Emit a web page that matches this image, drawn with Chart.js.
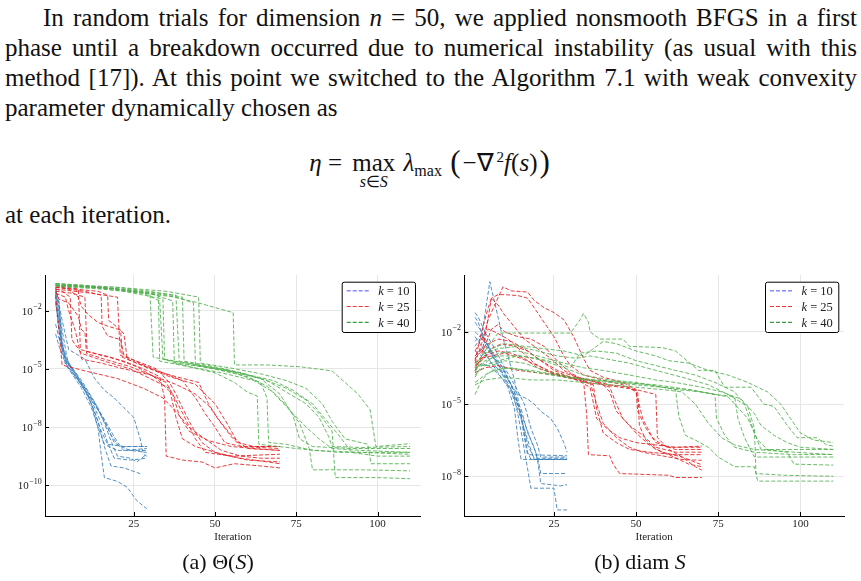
<!DOCTYPE html>
<html>
<head>
<meta charset="utf-8">
<script src="https://cdn.jsdelivr.net/npm/chart.js@4.4.1/dist/chart.umd.min.js"></script>
<style>
body { margin: 0; width: 861px; height: 581px; background: #fff; position: relative; overflow: hidden; font-family: 'Liberation Serif', serif; color: #111; }
.para { position: absolute; left: 5px; width: 852px; font-size: 25px; line-height: 30px; }
.para div { text-align: justify; text-align-last: justify; }
#eq { position: absolute; top: 142px; left: 0; width: 861px; text-align: center; font-size: 25px; line-height: 30px; }
.under { position: relative; display: inline-block; margin: 0 2px 0 4px; }
.lim { position: absolute; left: 50%; transform: translateX(-50%); top: 19px; font-size: 16px; white-space: nowrap; }
.sb { font-size: 16px; position: relative; top: 5px; }
.bigp { font-size: 31px; position: relative; top: 1px; margin: 0 2px; }
.cap { position: absolute; top: 549px; font-size: 22px; line-height: 26px; transform: translateX(-50%); white-space: nowrap; }
.plot { position: absolute; top: 268px; }
</style>
</head>
<body>
<div class="para" style="top:3px">
  <div style="text-indent:38px">In random trials for dimension <i>n</i> = 50, we applied nonsmooth BFGS in a first</div>
  <div>phase until a breakdown occurred due to numerical instability (as usual with this</div>
  <div>method [17]). At this point we switched to the Algorithm 7.1 with weak convexity</div>
  <div style="text-align-last:left">parameter dynamically chosen as</div>
</div>
<div id="eq"><i>η</i>&nbsp;= <span class="under">max<span class="lim"><i>s</i>∈<i>S</i></span></span> <i>λ</i><span class="sb">max</span> <span class="bigp">(</span>−∇<sup style="font-size:15px">&thinsp;2</sup><i>f</i>(<i>s</i>)<span class="bigp">)</span></div>
<div class="para" style="top:200px"><div style="text-align-last:left">at each iteration.</div></div>

<div class="plot" style="left:0px"><canvas id="thetaChart" width="430" height="282"></canvas></div>
<div class="plot" style="left:430px"><canvas id="diamChart" width="431" height="282"></canvas></div>

<div class="cap" style="left:218px">(a) Θ(<i>S</i>)</div>
<div class="cap" style="left:640px">(b) diam <i>S</i></div>

<script>
// each run: [iteration, value]
const thetaK10 = [
  [[1,1.3e-1],[2,3.2e-2],[3,3.2e-4],[4,2.5e-5],[7,6.3e-6],[10,1e-6],[13,6.3e-8],[15,6.3e-9],[17,1.3e-9],[22,1e-9],[29,1e-9]],
  [[1,6.3e-2],[2,6.3e-3],[3,1e-4],[5,1e-5],[9,1e-6],[12,1e-7],[14,1e-8],[16,1.3e-9],[20,6.3e-10],[29,6.3e-10]],
  [[1,3.2e-2],[2,1.6e-3],[4,1.6e-5],[8,2.5e-6],[12,2.5e-7],[15,1.6e-8],[17,1.6e-9],[19,2.5e-10],[24,2.0e-10],[29,2.5e-10]],
  [[1,2.0e-3],[2,4.0e-4],[4,3.2e-5],[7,5.0e-6],[11,4.0e-7],[14,2.0e-8],[16,1e-9],[18,1e-10],[22,7.9e-11],[27,4.0e-11]],
  [[1,1e-1],[2,1e-2],[3,1e-3],[5,1.3e-5],[9,1.6e-6],[12,1.6e-7],[14,1e-8],[15,4.0e-10],[16,2.5e-11],[20,1.6e-11],[23,7.9e-12],[26,1.6e-12],[29,6.3e-13]],
  [[1,1.6e-1],[3,3.2e-3],[5,1e-4],[8,5.0e-5],[10,3.2e-5],[13,3.2e-6],[16,7.9e-7],[19,3.2e-7],[22,1e-7],[25,3.2e-8],[27,2.5e-9],[28,4.0e-10],[29,3.2e-10]],
  [[1,5.0e-2],[2,3.2e-3],[3,6.3e-5],[6,1e-5],[10,1e-6],[14,1e-7],[17,1e-8],[19,1.6e-9],[21,1e-9],[24,6.3e-10],[29,5.0e-10]],
  [[1,7.9e-2],[2,1.6e-2],[3,1.6e-4],[5,2.0e-5],[9,2.5e-6],[13,2.0e-7],[16,1.6e-8],[18,2.0e-9],[20,3.2e-10],[24,2.5e-10],[26,1.6e-10],[29,4.0e-10]],
  [[1,6.3e-4],[2,1.6e-4],[4,2.0e-5],[8,2.5e-6],[12,2.5e-7],[16,2.5e-8],[19,3.2e-9],[21,1e-9],[29,1e-9]],
  [[1,2.5e-2],[2,1e-3],[4,4.0e-5],[7,6.3e-6],[11,6.3e-7],[15,4.0e-8],[18,4.0e-9],[20,1.3e-9],[22,6.3e-10],[29,7.9e-10]]
];

const thetaK25 = [
  [[1,2.0e-1],[8,1.3e-1],[8.6,1e-4],[15,5.0e-5],[22,2.5e-5],[28,1e-5],[33,4.0e-6],[34.5,3.2e-7],[35,3.2e-10],[40,2.0e-10],[46,1.6e-10],[50,7.9e-11],[56,1.3e-10],[64,1e-10],[70,7.9e-11]],
  [[1,1.3e-1],[3,1e-1],[5.5,5.0e-2],[6,3.2e-4],[9,6.3e-5],[16,2.5e-5],[24,1e-5],[30,3.2e-6],[36,1e-6],[38,3.2e-8],[40,2.5e-9],[44,1e-9],[52,4.0e-10],[60,2.0e-10],[70,1.6e-10]],
  [[1,1e-1],[6,7.9e-2],[10,5.0e-2],[10.7,7.9e-5],[18,4.0e-5],[26,1.3e-5],[32,3.2e-6],[37,5.0e-7],[39,4.0e-8],[42,6.3e-9],[48,2.0e-9],[55,1e-9],[62,7.9e-10],[70,6.3e-10]],
  [[1,1.6e-1],[10,1e-1],[15,6.3e-2],[15.3,1.6e-3],[17,5.0e-4],[21,3.2e-4],[22,5.0e-5],[28,1.6e-5],[34,6.3e-6],[40,2.5e-6],[44,3.2e-7],[47,5.0e-8],[50,1e-8],[53,1.6e-9],[58,1e-9],[70,1e-9]],
  [[1,7.9e-2],[4,5.0e-2],[5,1e-2],[7,1e-3],[9,3.2e-5],[15,2.0e-5],[22,1e-5],[30,5.0e-6],[38,1.6e-6],[44,5.0e-7],[48,1.3e-7],[52,1.6e-8],[56,2.5e-9],[60,7.9e-10],[70,6.3e-10]],
  [[1,6.3e-2],[3,1.6e-5],[10,7.9e-6],[20,3.2e-6],[28,1e-6],[34,3.2e-7],[38,6.3e-8],[42,1e-8],[46,3.2e-9],[52,6.3e-10],[58,3.2e-10],[64,2.5e-10],[70,2.5e-10]],
  [[1,1.6e-1],[14,1e-1],[17,6.3e-2],[17.3,3.2e-3],[21,1e-3],[21.5,4.0e-5],[26,2.0e-5],[32,7.9e-6],[38,4.0e-6],[45,2.0e-6],[48,1.6e-7],[51,2.5e-8],[55,3.2e-9],[58,1e-9],[70,7.9e-10]],
  [[1,1.3e-1],[12,7.9e-2],[20,5.0e-2],[20.9,5.0e-5],[26,2.5e-5],[32,1e-5],[36,2.0e-6],[38,5.0e-7],[40,1e-7],[43,1e-8],[46,1.6e-9],[50,5.0e-10],[58,2.5e-10],[70,1.3e-10]],
  [[1,1e-1],[2,4.0e-2],[5,2.5e-2],[8,5.0e-3],[9,1e-3],[10,7.9e-4],[10.5,6.3e-5],[16,3.2e-5],[24,1.3e-5],[30,5.0e-6],[35,2.0e-6],[38,2.5e-7],[41,2.5e-8],[44,2.5e-9],[47,5.0e-10],[55,3.2e-10],[70,4.0e-10]],
  [[1,2.0e-1],[5,1.3e-1],[8,5.0e-2],[9,1.6e-2],[11,6.3e-3],[14,2.5e-3],[17,1.6e-3],[21,1e-3],[22,6.3e-4],[23,3.2e-5],[30,1e-5],[36,4.0e-6],[44,1.6e-6],[50,1.6e-7],[54,1.3e-8],[57,1.6e-9],[62,1e-9],[70,1e-9]]
];

const thetaK40 = [
  [[1,2.5e-1],[10,2.0e-1],[20,1.3e-1],[30,7.9e-2],[31,4.0e-5],[40,2.0e-5],[50,1e-5],[60,4.0e-6],[66,1.3e-6],[70,2.5e-7],[74,5.0e-8],[78,1e-8],[82,2.5e-9],[86,7.9e-10],[95,6.3e-10],[110,5.0e-10]],
  [[1,2.0e-1],[15,1.6e-1],[25,1e-1],[32.6,6.3e-2],[33,2.5e-5],[42,1.3e-5],[52,6.3e-6],[62,2.5e-6],[68,6.3e-7],[72,1.3e-7],[76,1.6e-8],[79,7.9e-10],[80,6.3e-11],[95,6.3e-11],[110,5.6e-11]],
  [[1,2.2e-1],[12,1.6e-1],[22,1e-1],[34,4.0e-2],[34.5,3.2e-5],[44,1.6e-5],[54,7.9e-6],[64,3.2e-6],[70,5.0e-7],[74,4.0e-8],[76,2.5e-9],[80,1e-9],[92,7.9e-10],[110,7.9e-10]],
  [[1,2.5e-1],[20,1.3e-1],[30,7.9e-2],[37,3.2e-2],[37.5,2.0e-5],[46,1.3e-5],[56,6.3e-6],[64,2.0e-6],[66,3.2e-7],[66.5,1.6e-9],[72,1.3e-9],[80,6.3e-10],[95,5.0e-10],[110,4.0e-10]],
  [[1,2.0e-1],[20,1.6e-1],[30,1e-1],[40,5.0e-2],[40.5,2.5e-5],[50,1.3e-5],[58,6.3e-6],[66,2.5e-6],[72,1e-6],[78,2.5e-7],[82,5.0e-8],[86,6.3e-9],[87,2.5e-11],[100,2.5e-11],[110,2.2e-11]],
  [[1,1.8e-1],[15,1.3e-1],[28,7.9e-2],[38,5.0e-2],[43.4,2.5e-2],[44,1.6e-5],[52,1e-5],[60,5.0e-6],[68,2.5e-6],[74,7.9e-7],[80,1.6e-7],[84,2.5e-8],[88,4.0e-9],[92,5.0e-10],[100,3.2e-10],[110,3.2e-10]],
  [[1,2.5e-1],[20,1.6e-1],[35,1e-1],[45,5.0e-2],[45.5,2.0e-5],[55,1.1e-5],[64,5.6e-6],[72,2.5e-6],[78,1e-6],[83,1.6e-7],[86,2.0e-8],[90,2.5e-9],[97,1.3e-9],[98,1.3e-10],[110,1.3e-10]],
  [[1,2.0e-1],[20,1.3e-1],[35,6.3e-2],[45,2.5e-2],[55.6,7.9e-3],[56,1.6e-5],[66,1.6e-5],[76,1.3e-5],[86,7.9e-6],[90,2.0e-6],[94,5.0e-7],[97.7,7.9e-8],[99.5,1e-9],[110,1.4e-9]],
  [[1,2.2e-1],[18,1.4e-1],[28,7.9e-2],[33,3.2e-2],[34,3.2e-5],[42,1.3e-5],[50,6.3e-6],[56,2.0e-6],[60,6.3e-7],[63,4.0e-7],[63.5,1.3e-9],[75,7.9e-10],[88,5.0e-10],[110,5.0e-10]],
  [[1,2.0e-1],[22,1.3e-1],[38,6.3e-2],[39,2.5e-5],[48,1.3e-5],[58,6.3e-6],[66,2.5e-6],[72,6.3e-7],[78,1.6e-7],[82,3.2e-8],[85,3.2e-9],[86,1e-9],[95,8.9e-10],[110,1e-9]]
];

const diamK10 = [
  [[1,2.5e-3],[3,6.3e-3],[5.5,1.2],[7,1.6e-1],[9,1e-2],[11,1e-3],[13,1e-4],[15,3.2e-6],[17,1e-7],[18,5.0e-8],[22,5.0e-8],[29,5.0e-8]],
  [[1,1.6e-3],[3,1e-3],[5,2.5e-3],[7,6.3e-4],[10,2.0e-4],[13,3.2e-5],[15,3.2e-6],[17,2.0e-7],[19,5.6e-8],[29,5.6e-8]],
  [[1,4.0e-2],[2,2.5e-2],[4,3.2e-3],[6,1e-3],[9,4.0e-4],[12,6.3e-5],[14,4.0e-6],[15.5,3.2e-7],[17,2.0e-8],[18,3.2e-9],[25,3.2e-9],[26,4.0e-10],[29,4.0e-10]],
  [[1,2.5e-2],[3,1e-2],[6,1.6e-3],[9,2.5e-4],[12,4.0e-5],[15,4.0e-6],[18,3.2e-7],[20,6.3e-8],[21,1.3e-8],[26,1.3e-8],[29,1.3e-8]],
  [[1,2.5e-4],[3,5.0e-4],[6,3.2e-4],[9,1.3e-4],[12,4.0e-5],[15,6.3e-6],[17,6.3e-7],[19,1.6e-7],[20,5.0e-8],[21,5.0e-9],[27,4.0e-9],[29,4.5e-9]],
  [[1,6.3e-3],[3,2.5e-3],[6,5.0e-4],[10,1.6e-4],[14,2.5e-5],[17,1.6e-5],[19,1e-5],[21,5.0e-6],[24,2.5e-6],[26,1e-6],[28,2.5e-7],[29,1e-7]],
  [[1,1e-2],[4,4.0e-3],[7,1e-3],[10,2.5e-4],[13,3.2e-5],[15,3.2e-6],[16,4.0e-7],[17,7.9e-8],[29,7.1e-8]],
  [[1,6.3e-2],[2,4.0e-2],[4,1e-2],[7,2.0e-3],[10,3.2e-4],[13,6.3e-5],[16,1e-5],[18,1e-6],[20,2.0e-7],[21,6.3e-8],[29,6.3e-8]],
  [[1,1e-3],[3,2.0e-3],[5,7.9e-4],[8,2.0e-4],[11,5.0e-5],[13,6.3e-6],[14,4.0e-7],[15,5.0e-8],[29,5.0e-8]],
  [[1,4.0e-3],[3,7.9e-3],[6,1.3e-3],[9,2.0e-4],[12,3.2e-5],[15,2.5e-6],[17,3.2e-7],[19,5.0e-8],[29,5.0e-8]]
];

const diamK25 = [
  [[1,5.0e-4],[3,3.2e-3],[5,3.2e-2],[7,1.3e-1],[9.5,7.4e-1],[12,5.0e-1],[17,4.5e-1],[19,2.0e-1],[22,1e-1],[25,6.3e-2],[28,3.2e-2],[31,6.3e-3],[34,7.9e-4],[36,2.5e-4],[40,1.3e-4],[46,7.9e-5],[50,4.0e-5],[50.5,5.0e-6],[53,1e-6],[56,2.5e-7],[60,1.6e-7],[70,1.6e-7]],
  [[1,2.5e-4],[3,1e-3],[6,2.5e-1],[8,3.5e-1],[10,3.5e-1],[14,3.2e-1],[17,2.5e-1],[19,1e-1],[22,2.5e-2],[25,6.3e-3],[28,1e-3],[30,4.0e-4],[34,1.6e-4],[40,1e-4],[46,6.3e-5],[50,3.2e-5],[52,2.5e-6],[55,4.0e-7],[58,2.0e-7],[62,1.3e-7],[70,1.3e-7]],
  [[1,1e-3],[4,2.5e-3],[6,1.3e-2],[8,2.0e-2],[10,1e-2],[14,6.3e-3],[18,5.0e-3],[22,2.5e-3],[26,6.3e-4],[30,2.0e-4],[34,1e-4],[35,3.2e-6],[35.5,7.9e-8],[42,7.1e-8],[43,3.2e-8],[45,1.3e-8],[60,1.1e-8],[62,8.9e-9],[70,8.9e-9]],
  [[1,4.0e-4],[3,6.3e-4],[6,2.0e-3],[9,3.2e-3],[13,2.5e-3],[17,1.6e-3],[21,6.3e-4],[25,2.5e-4],[30,1.3e-4],[36,7.9e-5],[38,1e-5],[40,1.6e-6],[44,4.0e-7],[48,1.6e-7],[52,1e-7],[56,7.9e-8],[64,5.0e-8],[70,4.6e-8]],
  [[1,7.9e-4],[3,1.6e-3],[5,3.2e-3],[8,5.0e-3],[12,4.0e-3],[16,2.0e-3],[20,7.9e-4],[26,2.5e-4],[32,1.3e-4],[38,7.9e-5],[42,5.0e-5],[44,1e-5],[46,2.5e-6],[50,6.3e-7],[54,2.0e-7],[58,1e-7],[64,6.3e-8],[70,3.0e-8]],
  [[1,2.0e-4],[4,3.2e-4],[8,4.0e-4],[14,2.5e-4],[20,2.0e-4],[26,1.6e-4],[32,1e-4],[36,5.0e-5],[38,2.5e-6],[41,1e-6],[45,4.0e-7],[50,2.5e-7],[56,2.0e-7],[62,1.6e-7],[70,1.8e-7]],
  [[1,1.6e-3],[3,5.0e-3],[5,1.3e-2],[7,1e-2],[11,5.0e-3],[15,1.6e-3],[19,5.0e-4],[24,2.0e-4],[30,1.3e-4],[36,1e-4],[42,6.3e-5],[48,5.0e-5],[50.5,3.2e-5],[51,1.3e-6],[53,3.2e-7],[56,1.3e-7],[60,7.9e-8],[66,3.2e-8],[70,2.5e-8]],
  [[1,3.2e-4],[3,7.9e-4],[6,1e-3],[10,1.3e-3],[15,7.9e-4],[20,4.0e-4],[25,2.0e-4],[30,1.3e-4],[35,7.9e-5],[40,6.3e-5],[45,5.0e-5],[50,4.0e-5],[56,2.5e-5],[56.5,4.0e-7],[60,1.3e-7],[64,6.3e-8],[68,2.5e-8],[70,1.8e-8]],
  [[1,6.3e-4],[3,1e-2],[5,1e-1],[6,2.5e-1],[8,1.3e-1],[10,5.0e-2],[13,1.6e-2],[16,5.0e-3],[20,2.0e-3],[24,7.9e-4],[28,2.5e-4],[32,1.3e-4],[36,1e-4],[40,6.3e-5],[42,3.2e-5],[44,5.0e-6],[48,1.3e-6],[52,5.0e-7],[56,1.6e-7],[62,1e-7],[70,1e-7]],
  [[1,5.0e-4],[4,1e-3],[8,1.6e-3],[12,1.3e-3],[16,7.9e-4],[20,3.2e-4],[26,1.6e-4],[32,1e-4],[37,6.3e-5],[38,6.3e-6],[40,6.3e-7],[44,2.5e-7],[48,1.3e-7],[54,1e-7],[62,7.9e-8],[70,7.9e-8]]
];

const diamK40 = [
  [[1,4.0e-4],[5,2.5e-3],[8,8.9e-3],[20,8.9e-3],[30,8.9e-3],[33,3.2e-2],[34,5.8e-2],[35.5,2.5e-2],[36,1e-2],[39,5.0e-3],[46,5.0e-3],[48,2.5e-3],[58,2.2e-3],[62,1.6e-3],[69,2.5e-4],[74,2.5e-4],[77,5.0e-5],[85,5.0e-5],[88.8,1e-5],[92,7.9e-6],[96,1.3e-6],[99,4.0e-7],[105,4.0e-7],[108,2.0e-7],[110,1.8e-7]],
  [[1,1.6e-4],[4,4.0e-4],[8,6.3e-4],[14,1e-3],[20,7.9e-4],[26,5.0e-4],[30,3.2e-4],[33,1.3e-3],[38,1.6e-3],[44,1.3e-3],[50,6.3e-4],[56,4.0e-4],[62,2.5e-4],[68,1.6e-4],[74,7.9e-5],[80,3.2e-5],[83,1e-5],[86,6.3e-7],[88,1.3e-7],[98,1.3e-7],[110,1.3e-7]],
  [[1,7.9e-5],[5,2.0e-4],[10,3.2e-4],[18,2.5e-4],[26,1.6e-4],[34,1e-4],[42,7.9e-5],[50,6.3e-5],[58,5.0e-5],[62,4.0e-5],[63,3.2e-6],[65,5.0e-7],[68,3.2e-7],[72,1.6e-7],[75,6.3e-8],[80,2.5e-8],[86,2.5e-8],[87,6.3e-9],[100,6.3e-9],[110,6.3e-9]],
  [[1,2.5e-4],[4,6.3e-4],[8,1e-3],[15,1e-3],[22,6.3e-4],[28,3.2e-4],[34,1.6e-4],[42,1e-4],[50,7.9e-5],[58,5.0e-5],[66,4.0e-5],[74,2.5e-5],[74.5,2.5e-6],[77,5.0e-7],[80,1.6e-7],[86,1e-7],[98,7.9e-8],[110,8.1e-8]],
  [[1,2.5e-5],[3,1e-4],[6,2.5e-4],[12,3.2e-4],[20,2.0e-4],[28,1.3e-4],[36,1e-4],[46,7.9e-5],[56,6.3e-5],[66,4.0e-5],[74,2.5e-5],[80,2.0e-5],[81,2.5e-6],[83,4.0e-7],[86,6.3e-8],[90,6.3e-8],[110,6.3e-8]],
  [[1,5.0e-4],[4,1.3e-3],[8,2.0e-3],[14,2.5e-3],[20,1.6e-3],[26,1e-3],[32,7.9e-4],[36,1e-3],[40,7.9e-4],[48,5.0e-4],[56,2.5e-4],[64,1.3e-4],[72,6.3e-5],[78,2.5e-5],[84,7.9e-6],[86,1e-6],[86.5,1.3e-8],[95,1.1e-8],[110,1e-8]],
  [[1,1.3e-4],[3,4.0e-4],[6,4.0e-4],[10,6.3e-4],[16,5.0e-4],[22,2.5e-4],[30,1.3e-4],[38,1e-4],[46,7.9e-5],[54,6.3e-5],[62,4.0e-5],[70,3.2e-5],[78,2.0e-5],[84,2.5e-6],[87,3.2e-7],[90,1.3e-7],[96,1e-7],[98,3.2e-8],[110,2.9e-8]],
  [[1,3.2e-4],[4,5.0e-4],[8,1.3e-3],[14,1.6e-3],[20,1e-3],[28,5.0e-4],[34,3.2e-4],[40,2.5e-4],[48,1.6e-4],[56,1e-4],[62,7.9e-5],[70,5.0e-5],[76,3.2e-5],[82,1.6e-5],[86,4.0e-6],[88,1.3e-6],[92,5.0e-7],[96,2.5e-7],[100,1.6e-7],[110,1.3e-7]],
  [[1,6.3e-5],[4,1e-4],[10,1.3e-4],[18,1e-4],[26,1e-4],[34,7.9e-5],[42,6.3e-5],[50,5.0e-5],[58,4.0e-5],[64,3.2e-5],[68,1e-5],[72,1.6e-6],[76,4.0e-7],[80,2.0e-7],[86,1.3e-7],[98,1e-7],[110,7.9e-8]],
  [[1,2.0e-4],[3,7.9e-4],[6,2.0e-3],[10,3.2e-3],[16,2.5e-3],[22,2.0e-3],[28,1.6e-3],[34,1e-3],[40,4.0e-3],[44,3.2e-3],[50,1.6e-3],[56,1e-3],[60,6.3e-4],[66,5.0e-4],[72,2.5e-4],[78,1.6e-4],[84,7.9e-5],[90,3.2e-5],[94,1e-5],[97,2.5e-6],[100,6.3e-7],[104,3.2e-7],[110,2.5e-7]]
];

const xTicks = [25, 50, 75, 100];
const thetaTicks = [1e-2, 1e-5, 1e-8, 1e-11];
const thetaTickExp = ['−2', '−5', '−8', '−10'];
const diamTicks = [1e-2, 1e-5, 1e-8];
const diamTickExp = ['−2', '−5', '−8'];
const legendK = ['10', '25', '40'];

const lineColors = ['rgba(55,126,184,0.85)', 'rgba(228,26,28,0.85)', 'rgba(77,175,74,0.85)'];
const legendColors = ['rgba(70,70,255,0.65)', 'rgba(240,30,30,0.9)', 'rgba(0,125,0,0.95)'];
const serif = "'Liberation Serif', serif";

function runsToDatasets(runs, color, order) {
    return runs.map(run => ({
        data: run,
        borderColor: color,
        borderWidth: 1,
        borderDash: [4, 2],
        pointRadius: 0,
        fill: false,
        tension: 0,
        order: order,
    }));
}

// tick labels 10^e, inner tick marks and the boxed legend
const overlay = {
    id: 'overlay',
    afterDraw(chart, args, opts) {
        const ctx = chart.ctx;
        const area = chart.chartArea;
        const xs = chart.scales.x;
        const ys = chart.scales.y;
        ctx.save();
        ctx.strokeStyle = '#000';
        ctx.lineWidth = 1;
        opts.yTicks.forEach(v => {
            let py = Math.round(ys.getPixelForValue(v)) + 0.5;
            ctx.beginPath(); ctx.moveTo(area.left, py); ctx.lineTo(area.left + 4, py); ctx.stroke();
        });
        xTicks.forEach(v => {
            let px = Math.round(xs.getPixelForValue(v)) + 0.5;
            ctx.beginPath(); ctx.moveTo(px, area.bottom); ctx.lineTo(px, area.bottom - 4); ctx.stroke();
        });

        ctx.fillStyle = '#222';
        ctx.textAlign = 'right';
        ctx.textBaseline = 'middle';
        opts.yTicks.forEach((v, i) => {
            let py = ys.getPixelForValue(v);
            let right = area.left - 3.3;
            ctx.font = '8px ' + serif;
            let w = ctx.measureText(opts.yExp[i]).width;
            ctx.fillText(opts.yExp[i], right, py - 3.5);
            ctx.font = '11px ' + serif;
            ctx.fillText('10', right - w - 0.5, py + 1);
        });

        // legend box
        let bw = 73.3, bh = 50.3;
        let bx = area.right - 5.7 - bw, by = area.top + 6.7;
        ctx.fillStyle = '#fff';
        ctx.beginPath();
        ctx.roundRect(bx + 0.5, by + 0.5, bw, bh, 2);
        ctx.fill();
        ctx.stroke();
        ctx.textAlign = 'left';
        legendK.forEach((k, i) => {
            let ry = by + 9 + i * 15.8;
            ctx.strokeStyle = legendColors[i];
            ctx.setLineDash([4, 2]);
            ctx.lineWidth = i == 0 ? 1.4 : 1;
            ctx.beginPath(); ctx.moveTo(bx + 5, ry); ctx.lineTo(bx + 28.5, ry); ctx.stroke();
            ctx.setLineDash([]);
            ctx.fillStyle = '#222';
            ctx.font = 'italic 12.5px ' + serif;
            ctx.fillText('k', bx + 36.5, ry + 1);
            let kw = ctx.measureText('k').width;
            ctx.font = '12.5px ' + serif;
            ctx.fillText(' = ' + k, bx + 36.5 + kw, ry + 1);
        });
        ctx.restore();
    }
};

function makeChart(id, groups, yMin, yMax, yTicks, yExp, yWidth, padRight) {
    let datasets = [];
    groups.forEach((runs, g) => {
        datasets = datasets.concat(runsToDatasets(runs, lineColors[g], 3 - g));
    });
    return new Chart(id, {
        type: 'line',
        data: { datasets: datasets },
        plugins: [overlay],
        options: {
            animation: false,
            responsive: false,
            devicePixelRatio: 1,
            layout: { padding: { left: 0, top: 7, right: padRight, bottom: 0 } },
            scales: {
                x: {
                    type: 'linear',
                    min: -2.27,
                    max: 113.27,
                    afterBuildTicks: s => { s.ticks = xTicks.map(v => ({ value: v })); },
                    afterFit: s => { s.height = 34; },
                    grid: { color: '#e6e6e6', drawTicks: false },
                    border: { color: '#000', width: 1 },
                    ticks: { font: { family: serif, size: 11 }, color: '#222', padding: 2, maxRotation: 0 },
                    title: { display: true, text: 'Iteration', font: { family: serif, size: 11 }, color: '#222', padding: { top: 0, bottom: 6 } },
                },
                y: {
                    type: 'logarithmic',
                    min: yMin,
                    max: yMax,
                    afterBuildTicks: s => { s.ticks = yTicks.map(v => ({ value: v })); },
                    afterFit: s => { s.width = yWidth; },
                    grid: { color: '#e6e6e6', drawTicks: false },
                    border: { color: '#000', width: 1 },
                    ticks: { display: false },
                },
            },
            plugins: {
                legend: { display: false },
                tooltip: { enabled: false },
                overlay: { yTicks: yTicks, yExp: yExp },
            },
        },
    });
}

var thetaChart = makeChart('thetaChart', [thetaK10, thetaK25, thetaK40], 2.63e-13, 0.69, thetaTicks, thetaTickExp, 45, 9.3);
var diamChart = makeChart('diamChart', [diamK10, diamK25, diamK40], 2.24e-10, 2.29, diamTicks, diamTickExp, 34.3, 17);
</script>
</body>
</html>
